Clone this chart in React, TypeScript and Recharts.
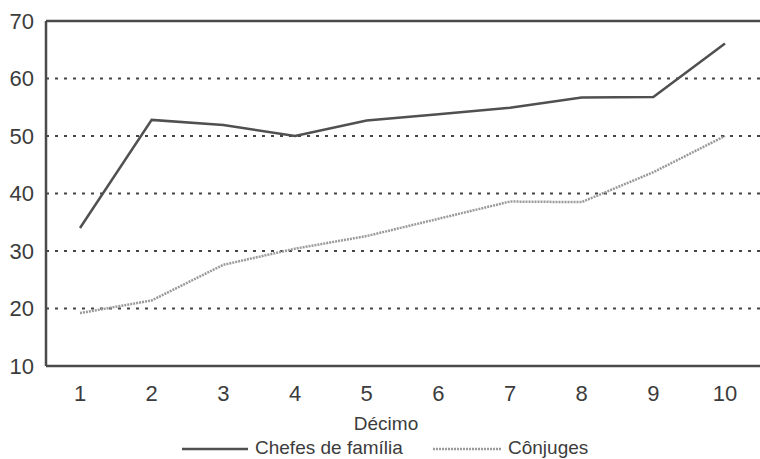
import React from 'react';
import { LineChart, Line, XAxis, YAxis, CartesianGrid, ReferenceLine, Legend } from 'recharts';

const deciles = ['1', '2', '3', '4', '5', '6', '7', '8', '9', '10'];
const chefes = [34, 52.8, 51.9, 50, 52.7, 53.8, 54.9, 56.7, 56.8, 66.1];
const conjuges = [19.2, 21.4, 27.6, 30.4, 32.6, 35.6, 38.6, 38.5, 43.7, 50];
const yTicks = [10, 20, 30, 40, 50, 60, 70];
const gridValues = [20, 30, 40, 50, 60];

const data = deciles.map((d, i) => ({ decimo: d, chefes: chefes[i], conjuges: conjuges[i] }));

const FONT = '"Liberation Sans", Arial, Helvetica, sans-serif';
const AXIS = '#4a4a4a';
const TEXT = '#3c3c3c';
const C1 = '#505050';
const C2 = '#9a9a9a';

const LegendContent = () => (
  <svg width={760} height={24} style={{ display: 'block' }}>
    <line x1={182} x2={248} y1={14} y2={14} stroke={C1} strokeWidth={2.5} />
    <text x={255} y={19} fontFamily={FONT} fontSize={19} fill={TEXT}>Chefes de família</text>
    <line x1={433} x2={502} y1={14} y2={14} stroke={C2} strokeWidth={2.5} strokeDasharray="2 1" />
    <text x={508} y={19} fontFamily={FONT} fontSize={19} fill={TEXT}>Cônjuges</text>
  </svg>
);

export default function App() {
  return (
    <div style={{ position: 'absolute', left: 0, top: 0, width: 760, height: 459, background: '#fff' }}>
      <LineChart width={760} height={459} data={data} margin={{ top: 21, right: 0, left: 0, bottom: 0 }}>
        <CartesianGrid horizontal={true} vertical={false} horizontalValues={gridValues} stroke="#444" strokeWidth={2} strokeDasharray="3 6" />
        <ReferenceLine y={70} stroke={AXIS} strokeWidth={2.5} />
        <XAxis
          dataKey="decimo"
          height={93}
          padding={{ left: 34, right: 35 }}
          axisLine={{ stroke: AXIS, strokeWidth: 2.5 }}
          tickLine={false}
          tickSize={0}
          tickMargin={19}
          tick={{ fill: TEXT, fontSize: 22, fontFamily: FONT }}
          interval={0}
          label={(props: any) => {
            const vb = props.viewBox || {};
            return (
              <text x={386} y={(vb.y || 366) + 64} textAnchor="middle" fontFamily={FONT} fontSize={19} fill={TEXT}>Décimo</text>
            );
          }}
        />
        <YAxis
          width={46}
          domain={[10, 70]}
          ticks={yTicks}
          interval={0}
          axisLine={{ stroke: AXIS, strokeWidth: 2.5 }}
          tickLine={false}
          tickSize={0}
          tickMargin={12}
          tick={{ fill: TEXT, fontSize: 22, fontFamily: FONT }}
        />
        <Legend
          layout="horizontal"
          verticalAlign="middle"
          align="center"
          wrapperStyle={{ top: 435, left: 0, width: 760 }}
          content={() => <LegendContent />}
        />
        <Line type="linear" dataKey="chefes" name="Chefes de família" stroke={C1} strokeWidth={2.5} dot={false} isAnimationActive={false} />
        <Line type="linear" dataKey="conjuges" name="Cônjuges" stroke={C2} strokeWidth={2.5} strokeDasharray="2 1" dot={false} isAnimationActive={false} />
      </LineChart>
    </div>
  );
}
